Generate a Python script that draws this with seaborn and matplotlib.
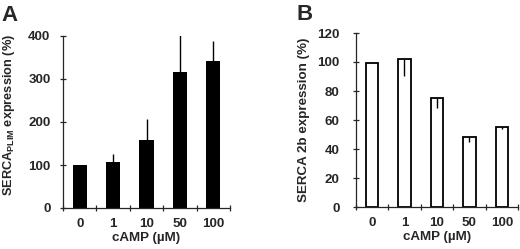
import matplotlib
matplotlib.use("Agg")
import matplotlib.pyplot as plt
import seaborn as sns
import numpy as np
import pandas as pd

categories = ["0", "1", "10", "50", "100"]
plim_values = [100, 108, 157, 317, 343]
plim_err_up = [0, 17, 51, 86, 45]
serca2b_values = [99, 102, 75.5, 48, 55]
serca2b_err_down = [0, 12, 7.5, 3, 1]

sns.set_style("ticks")
plt.rcParams["font.family"] = ["Liberation Sans", "DejaVu Sans"]
plt.rcParams["font.weight"] = "bold"
plt.rcParams["mathtext.fontset"] = "custom"
plt.rcParams["mathtext.rm"] = "Liberation Sans:bold"
plt.rcParams["mathtext.bf"] = "Liberation Sans:bold"
plt.rcParams["mathtext.it"] = "Liberation Sans:bold"

FS = 9.6

fig = plt.figure(figsize=(5.2, 2.49), dpi=100)
axA = fig.add_axes([63/520, 1-208/249, 167/520, 172/249])
axB = fig.add_axes([355.7/520, 1-207/249, 162.3/520, 174/249])

dfA = pd.DataFrame({"cAMP": categories, "val": plim_values})
dfB = pd.DataFrame({"cAMP": categories, "val": serca2b_values})

sns.barplot(data=dfA, x="cAMP", y="val", order=categories, color="black",
            width=0.43, errorbar=None, ax=axA, saturation=1, edgecolor="black", linewidth=0)
sns.barplot(data=dfB, x="cAMP", y="val", order=categories, color="white",
            width=0.385, errorbar=None, ax=axB, saturation=1, edgecolor="black", linewidth=1.3)

xpos = np.arange(len(categories))
axA.errorbar(xpos, plim_values, yerr=[np.zeros(5), plim_err_up], fmt="none",
             ecolor="black", elinewidth=1.0, capsize=0)
axB.errorbar(xpos, serca2b_values, yerr=[serca2b_err_down, np.zeros(5)], fmt="none",
             ecolor="black", elinewidth=1.0, capsize=0)

for ax, ymax, step, ypad in [(axA, 400, 100, 6.8), (axB, 120, 20, 9.3)]:
    ax.set_xlim(-0.5, 4.5)
    ax.set_ylim(0, ymax)
    ax.set_yticks(np.arange(0, ymax + 1, step))
    ax.set_xticks(xpos)
    ax.set_xticklabels(categories)
    ax.set_xticks(np.arange(-0.5, 5, 1), minor=True)
    ax.tick_params(axis="x", which="major", length=0, pad=7.5, labelsize=FS)
    ax.tick_params(axis="x", which="minor", length=4.5, direction="inout", width=0.9)
    ax.tick_params(axis="y", length=4.5, direction="inout", width=0.9, pad=ypad, labelsize=FS)
    for lbl in ax.get_xticklabels() + ax.get_yticklabels():
        lbl.set_fontweight("bold")
    for s in ["top", "right"]:
        ax.spines[s].set_visible(False)
    for s in ["left", "bottom"]:
        ax.spines[s].set_linewidth(0.9)
    ax.set_xlabel("cAMP (\u00b5M)", fontsize=FS, fontweight="bold", labelpad=1)

axA.set_ylabel(r"SERCA$_{\mathbf{PLIM}}$ expression (%)", fontsize=9.2, fontweight="bold")
axA.yaxis.set_label_coords(-0.275, 0.54)
axB.set_ylabel("SERCA 2b expression (%)", fontsize=FS, fontweight="bold")
axB.yaxis.set_label_coords(-0.28, 0.5)

fig.text(1/520, 1-5/249, "A", fontsize=16, fontweight="bold", va="top", ha="left")
fig.text(296/520, 1-4/249, "B", fontsize=16, fontweight="bold", va="top", ha="left")

fig.savefig("out.png", dpi=100)
